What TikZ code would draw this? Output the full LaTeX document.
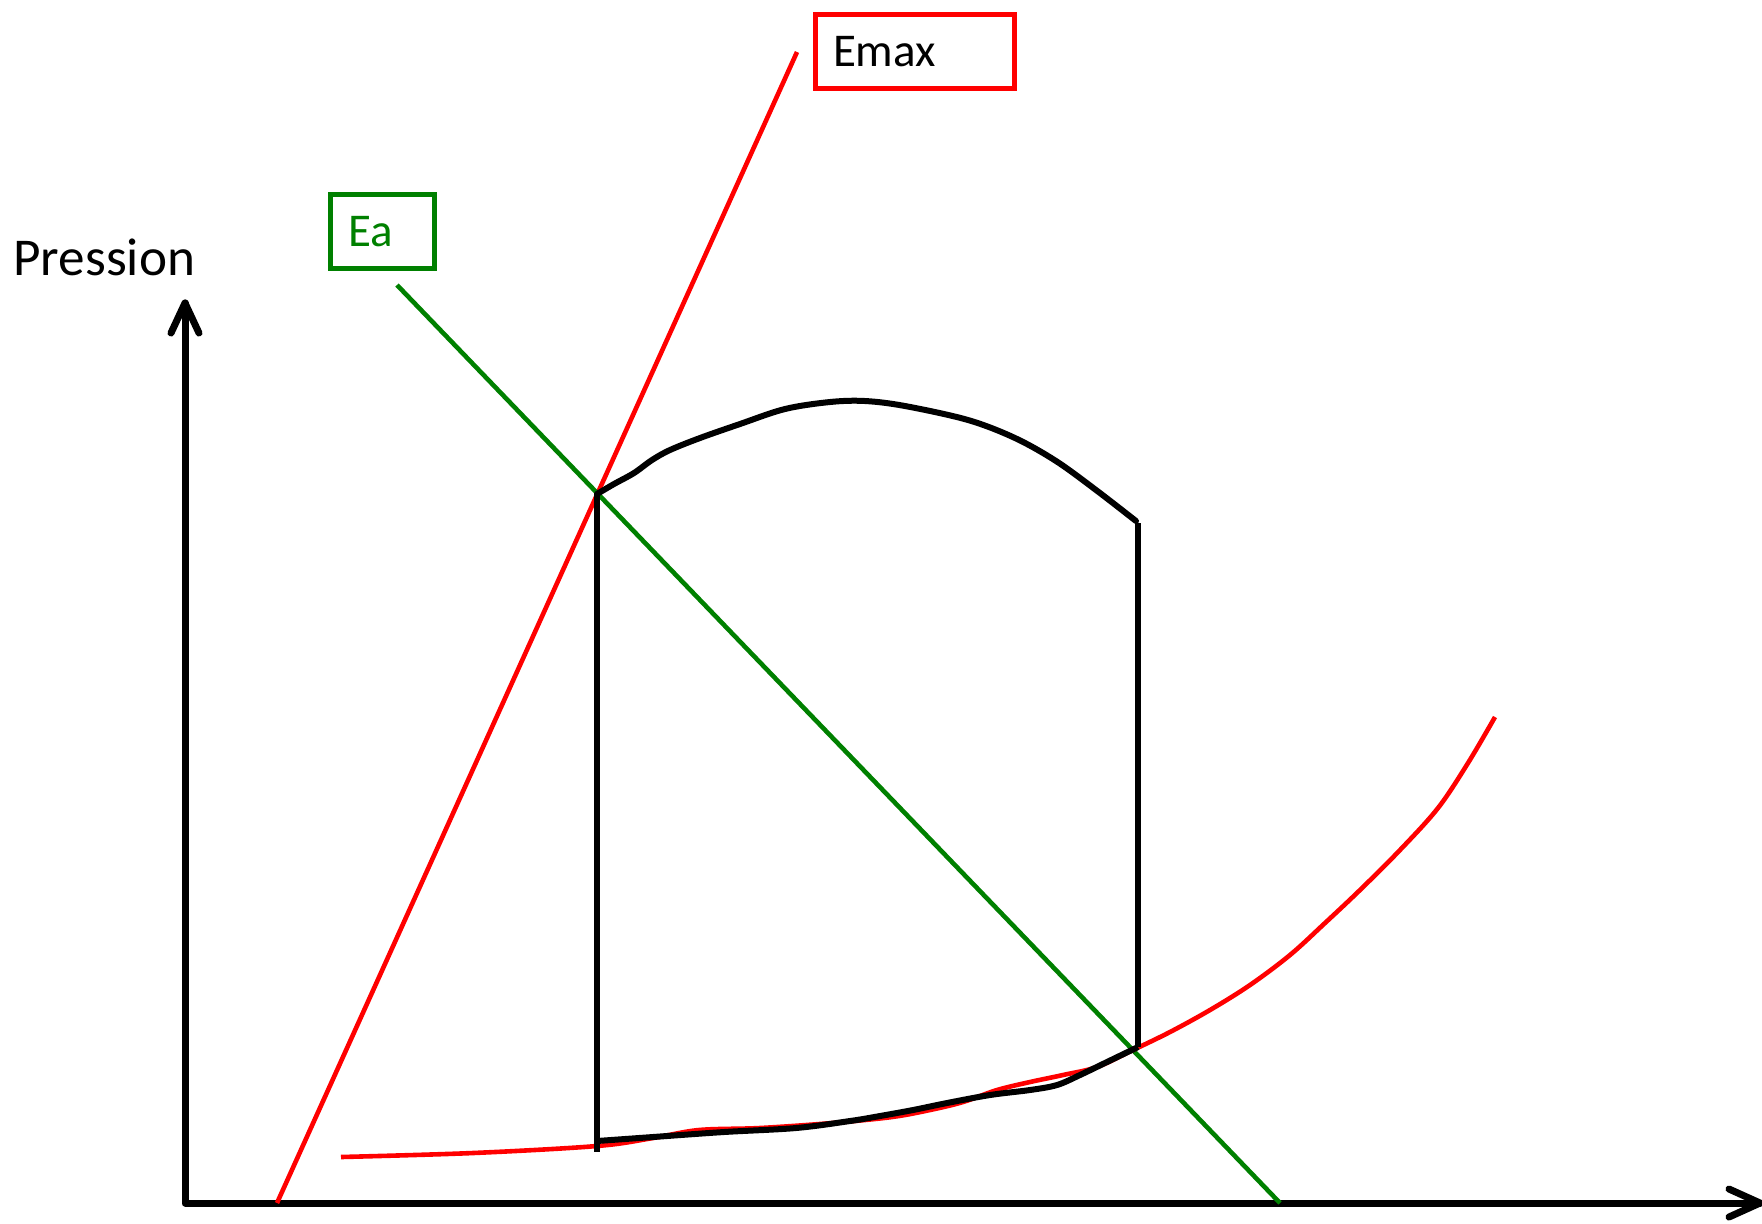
\documentclass[tikz,border=0pt]{standalone}
\usepackage{fontspec}
\setmainfont{Carlito}
\definecolor{eagreen}{RGB}{0,128,0}
\definecolor{emaxred}{RGB}{255,0,0}
\begin{document}
\begin{tikzpicture}[x=0.5pt,y=-0.5pt,
  axisline/.style={line width=3.5pt,line cap=round,line join=round,black},
  loopline/.style={line width=3pt,line join=round,black},
  redline/.style={line width=2.3pt,emaxred},
  greenline/.style={line width=2.3pt,eagreen},
  labelbox/.style={draw,line width=2.5pt,minimum height=37pt,inner ysep=0pt,inner xsep=8.75pt,align=left,font=\fontsize{23.5}{27}\selectfont},
]
\useasboundingbox (0,0) rectangle (1762,1223);
% axes
\coordinate (origin) at (185,1203);
\coordinate (ytip) at (185,303);
\coordinate (xtip) at (1760,1203);
\draw[axisline] (ytip) -- (origin) -- (xtip);
\draw[axisline] (171,333) -- (ytip) -- (199,333);
\draw[axisline] (1729,1189) -- (xtip) -- (1729,1217);
\node[anchor=base west,inner sep=0pt,font=\fontsize{26.6}{30}\selectfont] (pression) at (13,275) {Pression};
% labels
\node[labelbox,emaxred,text=black,text width=82pt] (emax) at (915,51.5) {Emax};
\node[labelbox,eagreen,text width=34.5pt] (ea) at (382.5,231.5) {Ea};
% Emax and Ea lines
\coordinate (emaxlo) at (277,1203);
\coordinate (emaxhi) at (797,52);
\coordinate (ealo) at (1280,1203);
\coordinate (eahi) at (397,285);
\draw[redline] (emaxlo) -- (emaxhi);
\draw[greenline] (eahi) -- (ealo);
% EDPVR red curve
\draw[redline,line join=round] plot[smooth,tension=0.55] coordinates {
 (341,1157) (473,1153) (597,1146) (653,1138) (699,1130) (760,1128) (832,1123)
 (892,1117) (930,1110) (963,1102) (997,1090) (1030,1082) (1063,1075) (1097,1067)
 (1133,1050) (1170,1032) (1210,1010) (1250,985) (1290,955) (1325,923) (1360,890)
 (1400,850) (1438,808) (1468,763) (1495,717)};
% PV loop
\coordinate (esp) at (597,494);
\coordinate (eos) at (1136,521);
\coordinate (ed) at (1138,1047);
\coordinate (bl) at (597,1152);
\coordinate (ls) at (597,1141);
\draw[loopline,line cap=butt] (esp) -- (bl);
\draw[loopline,line cap=butt] (1138,523) -- (ed);
\draw[loopline,line cap=round] plot[smooth,tension=0.55] coordinates {
 (esp) (614,484) (634,473) (652,460) (670,450) (700,438) (740,424)
 (785,409) (830,402) (865,401) (905,406) (968,420) (1015,438)
 (1056,461) (1096,490) (eos)};
\draw[loopline,line cap=butt] plot[smooth,tension=0.55] coordinates {
 (ls) (653,1137) (724,1132) (796,1128) (850,1121) (880,1116) (913,1110)
 (947,1103) (990,1095) (1030,1090) (1057,1085) (1080,1075) (1107,1062) (ed)};
\end{tikzpicture}
\end{document}
